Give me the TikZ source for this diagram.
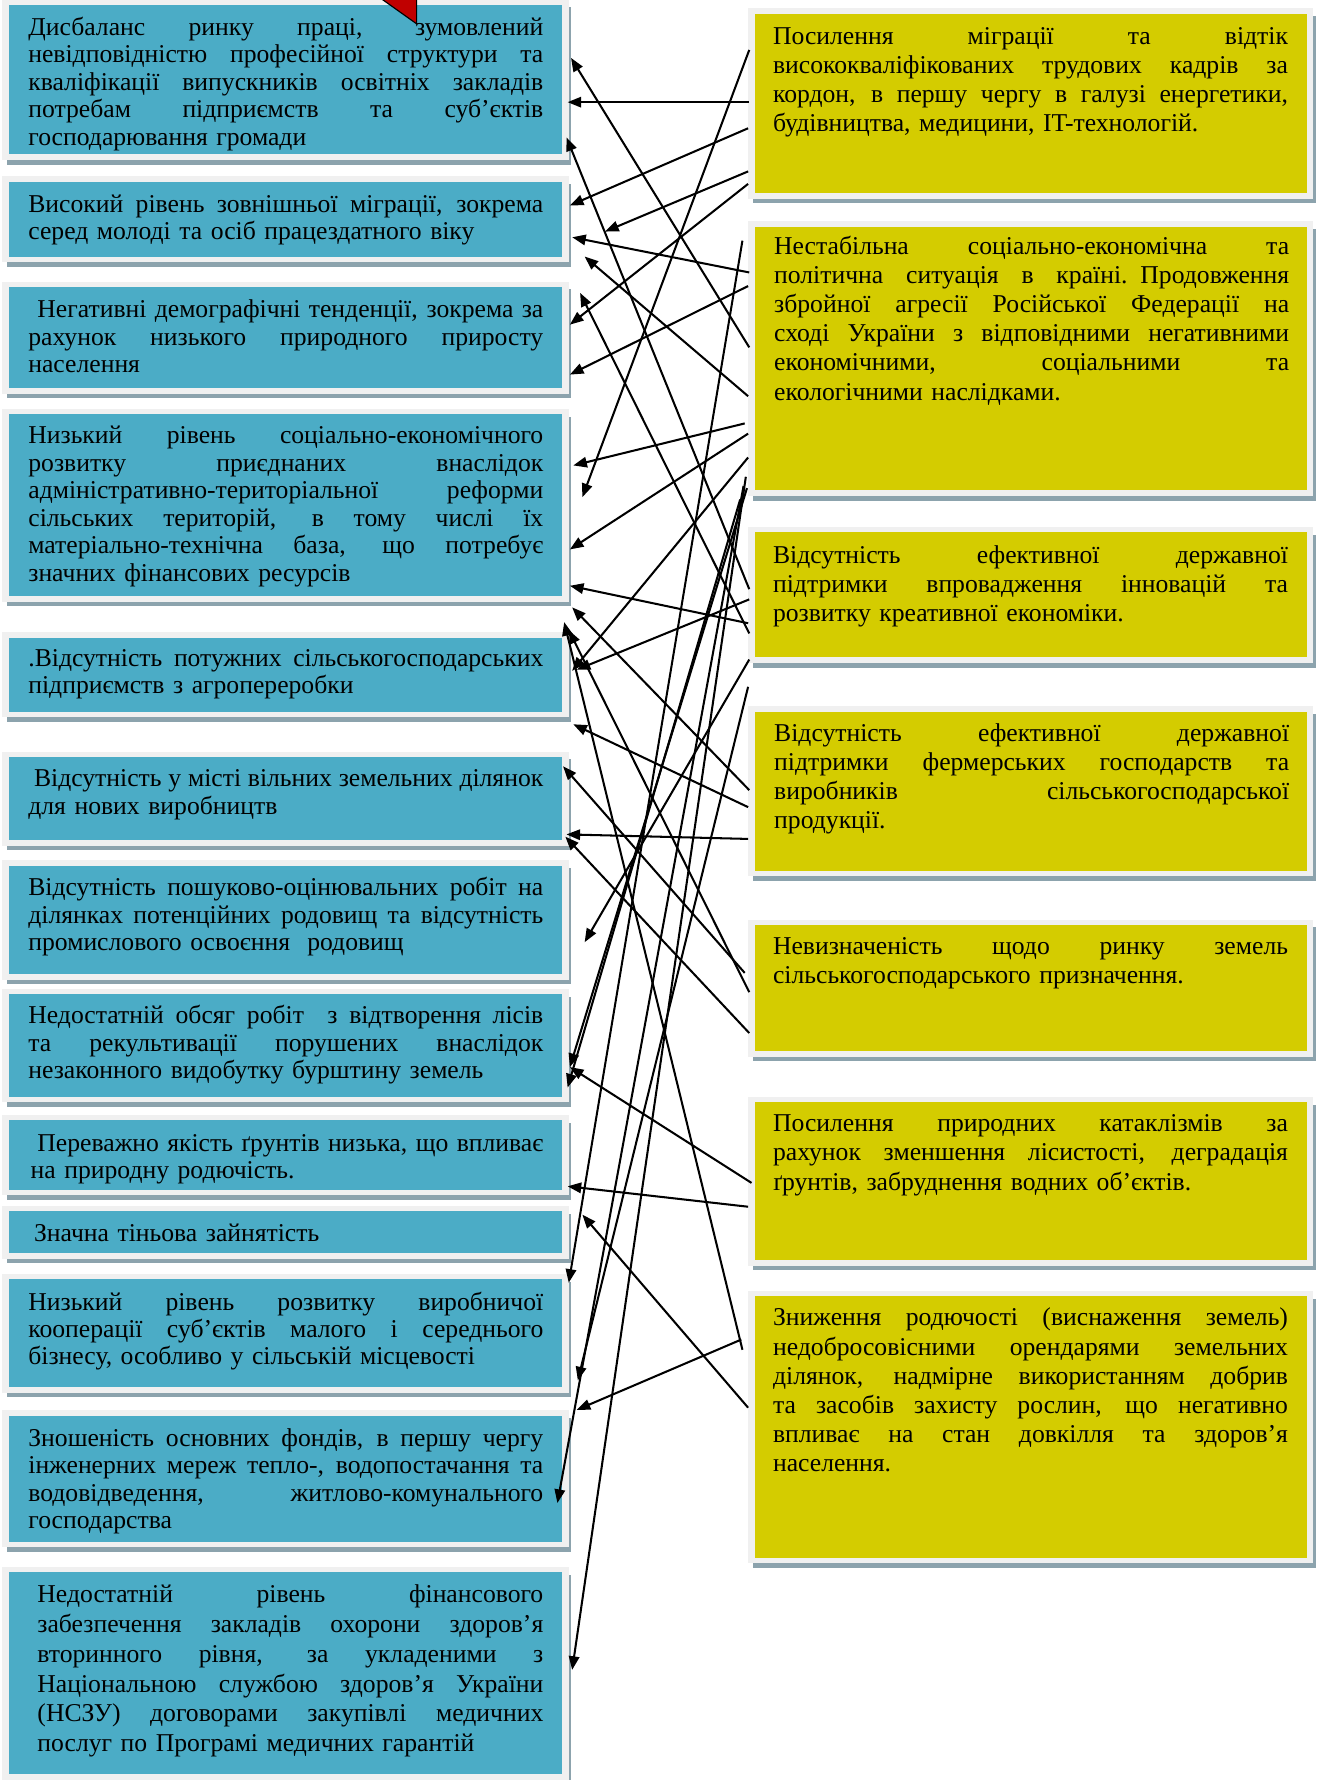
\documentclass[tikz,border=0pt]{standalone}
\usepackage{fontspec}
\setmainfont{Liberation Serif}
\usetikzlibrary{arrows.meta}
\definecolor{bluebox}{RGB}{75,172,198}
\definecolor{yelbox}{RGB}{212,204,0}
\definecolor{frm}{RGB}{240,240,240}
\definecolor{shd}{RGB}{140,163,173}
\definecolor{redtri}{RGB}{192,0,0}
\newlength{\jw}
\setlength{\jw}{226.8pt}
\newcommand{\jl}[1]{\leavevmode\hbox to \jw{\spaceskip=0.25em plus 1fil minus 0.08em\relax #1}\\}
\newcommand{\cbox}[6]{%
  \fill[shd] ({#3-2},{#4+2}) rectangle ({#5+8},{#6+9});
  \fill[frm] ({#3-6},{#4-5}) rectangle ({#5+6},{#6+5});
  \node[fill=#2, inner sep=0pt, outer sep=0pt, anchor=north west,
        minimum width={(#5-#3)*0.5pt}, minimum height={(#6-#4)*0.5pt}] (#1) at (#3,#4) {};
}
\begin{document}
\begin{tikzpicture}[x=0.5pt,y=-0.5pt,
  lt/.style={anchor=base west, inner sep=0pt, outer sep=0pt, text width=226.8pt, align=left,
             font=\fontsize{11.3}{12.1}\selectfont},
  lt13/.style={lt, font=\fontsize{11.3}{13.1}\selectfont},
  rt/.style={anchor=base west, inner sep=0pt, outer sep=0pt, text width=226.8pt, align=left,
             font=\fontsize{11.3}{12.85}\selectfont},
  arr/.style={line width=0.9pt, -{Triangle[length=6pt,width=4.6pt]}}]
\useasboundingbox (0,0) rectangle (1160,1568);
\fill[white] (0,0) rectangle (1160,1568);

% left boxes
\cbox{L1}{bluebox}{8}{4}{495}{136}
\cbox{L2}{bluebox}{8}{160}{495}{226}
\cbox{L3}{bluebox}{8}{253}{495}{342}
\cbox{L4}{bluebox}{8}{365}{495}{525}
\cbox{L5}{bluebox}{8}{562}{495}{627}
\cbox{L6}{bluebox}{8}{667}{495}{740}
\cbox{L7}{bluebox}{8}{763}{495}{858}
\cbox{L8}{bluebox}{8}{876}{495}{966}
\cbox{L9}{bluebox}{8}{987}{495}{1048}
\cbox{L10}{bluebox}{8}{1067}{495}{1104}
\cbox{L11}{bluebox}{8}{1127}{495}{1222}
\cbox{L12}{bluebox}{8}{1247}{495}{1358}
\cbox{L13}{bluebox}{8}{1385}{495}{1563}

% right boxes
\cbox{R1}{yelbox}{665}{12}{1151}{170}
\cbox{R2}{yelbox}{665}{200}{1151}{432}
\cbox{R3}{yelbox}{665}{469}{1151}{579}
\cbox{R4}{yelbox}{665}{627}{1151}{767}
\cbox{R5}{yelbox}{665}{815}{1151}{926}
\cbox{R6}{yelbox}{665}{971}{1151}{1110}
\cbox{R7}{yelbox}{665}{1142}{1151}{1372}

% left texts
\node[lt] (T1) at (25,31) {\jl{Дисбаланс ринку праці, зумовлений}\jl{невідповідністю професійної структури та}\jl{кваліфікації випускників освітніх закладів}\jl{потребам підприємств та суб’єктів}господарювання громади};
\node[lt] (T2) at (25,187) {\jl{Високий рівень зовнішньої міграції, зокрема}серед молоді та осіб працездатного віку};
\node[lt] (T3) at (25,280) {\jl{\hspace*{4pt}Негативні демографічні тенденції, зокрема за}\jl{рахунок низького природного приросту}населення};
\node[lt] (T4) at (25,391) {\jl{Низький рівень соціально-економічного}\jl{розвитку приєднаних внаслідок}\jl{адміністративно-територіальної реформи}\jl{сільських територій, в тому числі їх}\jl{матеріально-технічна база, що потребує}значних фінансових ресурсів};
\node[lt] (T5) at (25,587) {\jl{.Відсутність потужних сільськогосподарських}підприємств з агропереробки};
\node[lt] (T6) at (25,693) {\jl{\hspace*{2.5pt}Відсутність у місті вільних земельних ділянок}для нових виробництв};
\node[lt] (T7) at (25,789) {\jl{Відсутність пошуково-оцінювальних робіт на}\jl{ділянках потенційних родовищ та відсутність}промислового освоєння\ \ родовищ};
\node[lt] (T8) at (25,902) {\jl{Недостатній обсяг робіт\ \ з відтворення лісів}\jl{та рекультивації порушених внаслідок}незаконного видобутку бурштину земель};
\node[lt] (T9) at (25,1014) {\jl{\hspace*{4pt}Переважно якість ґрунтів низька, що впливає}\hspace*{1pt}на природну родючість.};
\node[lt] (T10) at (25,1094) {\hspace*{2.5pt}Значна тіньова зайнятість};
\node[lt] (T11) at (25,1154) {\jl{Низький рівень розвитку виробничої}\jl{кооперації суб’єктів малого і середнього}бізнесу, особливо у сільській місцевості};
\node[lt] (T12) at (25,1274) {\jl{Зношеність основних фондів, в першу чергу}\jl{інженерних мереж тепло-, водопостачання та}\jl{водовідведення, житлово-комунального}господарства};
\node[lt13] (T13) at (25,1412) {\jl{\hspace*{4pt}Недостатній рівень фінансового}\jl{\hspace*{4pt}забезпечення закладів охорони здоров’я}\jl{\hspace*{4pt}вторинного рівня, за укладеними з}\jl{\hspace*{4pt}Національною службою здоров’я України}\jl{\hspace*{4pt}(НСЗУ) договорами закупівлі медичних}\hspace*{4pt}послуг по Програмі медичних гарантій};

% right texts
\node[rt] (S1) at (681,39) {\jl{Посилення міграції та відтік}\jl{висококваліфікованих трудових кадрів за}\jl{кордон, в першу чергу в галузі енергетики,}будівництва, медицини, IT-технологій.};
\node[rt] (S2) at (682,224) {\jl{Нестабільна соціально-економічна та}\jl{політична ситуація в країні. Продовження}\jl{збройної агресії Російської Федерації на}\jl{сході України з відповідними негативними}\jl{економічними, соціальними та}екологічними наслідками.};
\node[rt] (S3) at (681,496) {\jl{Відсутність ефективної державної}\jl{підтримки впровадження інновацій та}розвитку креативної економіки.};
\node[rt] (S4) at (682,653) {\jl{Відсутність ефективної державної}\jl{підтримки фермерських господарств та}\jl{виробників сільськогосподарської}продукції.};
\node[rt] (S5) at (681,841) {\jl{Невизначеність щодо ринку земель}сільськогосподарського призначення.};
\node[rt] (S6) at (681,997) {\jl{Посилення природних катаклізмів за}\jl{рахунок зменшення лісистості, деградація}ґрунтів, забруднення водних об’єктів.};
\node[rt] (S7) at (681,1168) {\jl{Зниження родючості (виснаження земель)}\jl{недобросовісними орендарями земельних}\jl{ділянок, надмірне використанням добрив}\jl{та засобів захисту рослин, що негативно}\jl{впливає на стан довкілля та здоров’я}населення.};

% red triangle at top
\filldraw[fill=redtri, draw=black, line width=0.5pt] (329,-6) -- (367,21) -- (367,-6) -- cycle;

% connectors
\foreach \n/\xa/\ya/\xb/\yb in {
  1/660/306/503/51, 2/660/90/500/90, 3/660/519/499/121, 4/660/44/513/438,
  5/659/113/502/181, 6/659/151/533/204, 7/659/162/502/286, 8/660/240/504/209,
  9/659/349/515/226, 10/660/558/511/258, 11/659/252/502/330, 12/656/373/505/410,
  13/659/382/502/484, 14/659/403/504/591, 15/659/549/502/516, 16/660/696/504/535,
  17/654/1189/497/548, 17b/660/874/501/555, 18/659/711/505/638, 19/656/857/496/675,
  20/659/739/499/735, 21/660/910/498/737, 22/659/1063/500/1045, 23/659/1240/513/1070,
  24/653/1180/508/1242, 25/660/528/508/590, 26/660/581/515/830, 27/658/430/502/940,
  28/662/1042/502/940, 29/657/420/504/1471, 30/655/428/491/1324, 31/659/605/509/1216,
  32/654/212/501/1130, 33/652/440/500/958}
{
  \coordinate (a\n) at (\xa,\ya);
  \coordinate (b\n) at (\xb,\yb);
  \draw[arr] (a\n) -- (b\n);
}
\end{tikzpicture}
\end{document}
